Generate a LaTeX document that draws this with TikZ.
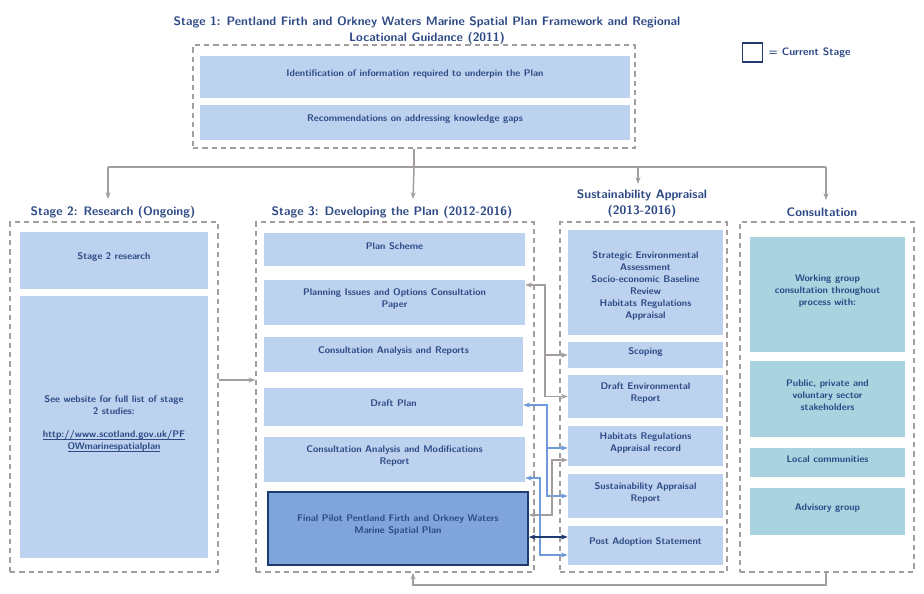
\documentclass[tikz,border=0pt]{standalone}
\usepackage{fontspec}
\setmainfont{Liberation Sans}
\usetikzlibrary{fit,arrows.meta}
\definecolor{navy}{HTML}{2E4A86}
\definecolor{boxblue}{HTML}{BCD2EE}
\definecolor{darkbox}{HTML}{7FA5DC}
\definecolor{teal}{HTML}{A8D3DF}
\definecolor{linegrey}{HTML}{A39D9D}
\definecolor{arrowblue}{HTML}{6F9BD8}
\definecolor{arrownavy}{HTML}{1F3A6E}

\begin{document}
\begin{tikzpicture}[
  x=0.75pt, y=-0.75pt,
  font=\sffamily\bfseries,
  stage/.style   = {draw=linegrey, dashed, line width=1.2pt, dash pattern=on 4pt off 3pt, inner sep=0pt},
  box/.style     = {fill=boxblue, inner sep=0pt, text=navy, align=center, font=\sffamily\bfseries\fontsize{7.2}{9}\selectfont},
  cbox/.style    = {box, fill=teal},
  current/.style = {box, fill=darkbox, draw=arrownavy, line width=1.2pt},
  head/.style    = {text=navy, align=center, font=\sffamily\bfseries\fontsize{9.2}{12}\selectfont},
  flow/.style    = {draw=linegrey, line width=1.1pt, -{Stealth[length=5pt]}},
  link/.style    = {line width=1.1pt, {Stealth[length=5pt]}-{Stealth[length=5pt]}},
  ]
  \useasboundingbox (0,0) rectangle (924,593);
  % titles
  \node[head] (title) at (427,31) {Stage 1: Pentland Firth and Orkney Waters Marine Spatial Plan Framework and Regional\\Locational Guidance (2011)};
  \node[draw=arrownavy, line width=1.2pt, minimum width=15pt, minimum height=14pt, inner sep=0pt] (key) at (752.5,52.5) {};
  \node[head, anchor=west, font=\sffamily\bfseries\fontsize{8}{10}\selectfont] (keytext) at (764,53) {= Current Stage};
  % stage 1
  \node[stage, fit={(193,45) (635,148)}] (s1) {};
  \node[box, fit={(200,56) (630,98)}] (ident) {Identification of information required to underpin the Plan\\[14pt]};
  \node[box, fit={(200,105) (630,140)}] (recom) {Recommendations on addressing knowledge gaps\\[10pt]};
  % column headings
  \node[head] (h2) at (113,212) {Stage 2: Research (Ongoing)};
  \node[head] (h3) at (392,212) {Stage 3: Developing the Plan (2012-2016)};
  \node[head] (hsa) at (642,204) {Sustainability Appraisal\\(2013-2016)};
  \node[head] (hc) at (822,212) {Consultation};
  % stage 2
  \node[stage, fit={(10,222) (218,572)}] (s2) {};
  \node[box, fit={(20,232) (208,289)}] (res) {Stage 2 research\\[8pt]};
  \node[box, fit={(20,296) (208,558)}] (web) {See website for full list of stage\\2 studies:\\[8pt]\underline{\smash{http://www.scotland.gov.uk/PF}}\\\underline{\smash{OWmarinespatialplan}}\\[40pt]};
  % stage 3
  \node[stage, fit={(256,222) (534,572)}] (s3) {};
  \node[box, fit={(264,233) (525,266)}] (scheme) {Plan Scheme\\[8pt]};
  \node[box, fit={(264,280) (525,325)}] (issues) {Planning Issues and Options Consultation\\Paper\\[6pt]};
  \node[box, fit={(264,337) (523,372)}] (analysis) {Consultation Analysis and Reports\\[6pt]};
  \node[box, fit={(264,388) (523,426)}] (draft) {Draft Plan\\[10pt]};
  \node[box, fit={(264,437) (525,482)}] (mods) {Consultation Analysis and Modifications\\Report};
  \node[current, fit={(268,492) (528,565)}] (final) {Final Pilot Pentland Firth and Orkney Waters\\Marine Spatial Plan\\[16pt]};
  % sustainability appraisal
  \node[stage, fit={(560,222) (727,572)}] (sa) {};
  \node[box, fit={(568,230) (723,335)}] (sea) {\\[2pt]Strategic Environmental\\Assessment\\Socio-economic Baseline\\Review\\Habitats Regulations\\Appraisal};
  \node[box, fit={(568,342) (723,368)}] (scoping) {Scoping};
  \node[box, fit={(568,375) (723,418)}] (envrep) {Draft Environmental\\Report};
  \node[box, fit={(568,426) (723,466)}] (hra) {Habitats Regulations\\Appraisal record};
  \node[box, fit={(568,474) (723,518)}] (sarep) {Sustainability Appraisal\\Report};
  \node[box, fit={(568,526) (723,565)}] (post) {Post Adoption Statement\\[8pt]};
  % consultation
  \node[stage, fit={(740,222) (914,572)}] (cons) {};
  \node[cbox, fit={(750,237) (905,352)}] (group) {Working group\\consultation throughout\\process with:};
  \node[cbox, fit={(750,361) (905,437)}] (public) {Public, private and\\voluntary sector\\stakeholders\\[6pt]};
  \node[cbox, fit={(750,448) (905,477)}] (local) {Local communities};
  \node[cbox, fit={(750,488) (905,535)}] (advisory) {Advisory group\\[6pt]};
  % connectors
  \draw[draw=linegrey, line width=1.1pt] (s1.south) -- ++(0,19) coordinate (split);
  \draw[draw=linegrey, line width=1.1pt] (108,167) -- (826,167);
  \draw[flow] (108,167) -- (108,199);
  \draw[flow] (split) -- (413,199);
  \draw[flow] (638,167) -- (638,184);
  \draw[flow] (826,167) -- (826,200);
  \draw[flow] (s2.east |- 0,380) -- (s3.west |- 0,380);
  \draw[flow] (cons.south -| 826,0) -- (826,585) -- (413,585) -- (s3.south -| 413,0);
  \draw[link, draw=linegrey] (issues.east |- 0,285) -- (545,285) |- (envrep.west);
  \draw[flow] (545,355) -- (scoping.west);
  \draw[link, draw=arrowblue] (draft.east |- 0,405) -- (547,405) |- (sarep.west);
  \draw[draw=arrowblue, line width=1.1pt, -{Stealth[length=5pt]}] (547,448) -- (hra.west |- 0,448);
  \draw[link, draw=linegrey] (final.east |- 0,515) -- (552,515) |- (hra.west |- 0,460);
  \draw[link, draw=arrowblue] (mods.east |- 0,478) -- (540,478) |- (post.west |- 0,555);
  \draw[link, draw=arrownavy] (final.east |- 0,537) -- (post.west |- 0,537);
\end{tikzpicture}
\end{document}
